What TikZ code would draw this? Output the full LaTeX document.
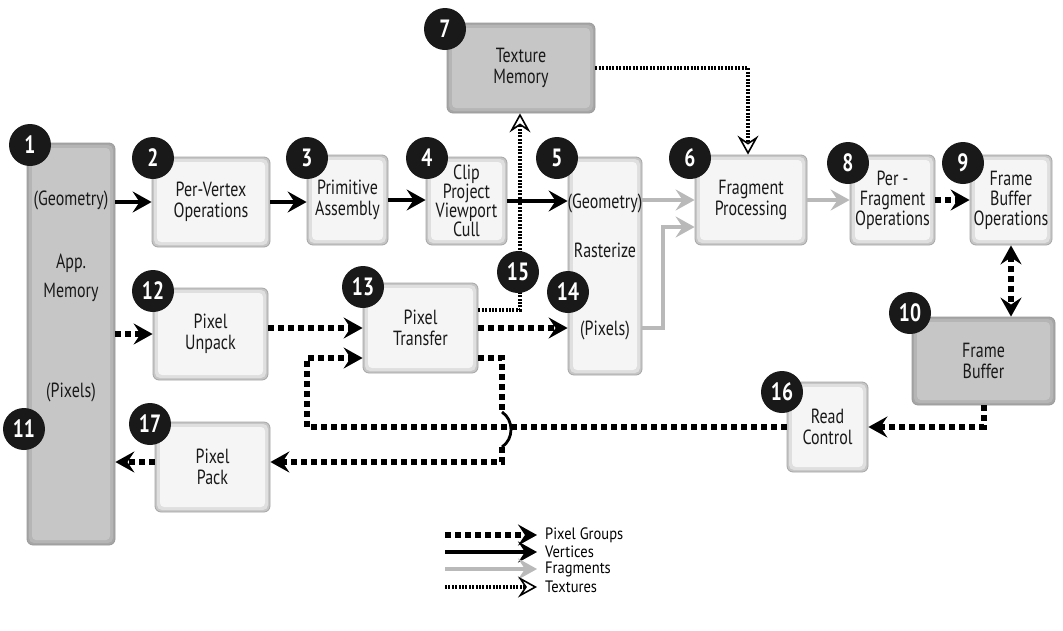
\documentclass[tikz,border=0pt]{standalone}
\usepackage{fontspec}
\setmainfont{PT Sans}[FakeStretch=0.78]
\newfontfamily\lgfam{PT Sans}[FakeStretch=0.88]
\usetikzlibrary{arrows.meta}
\newcommand\bxfont{\fontsize{20.5}{21.5}\selectfont}
\newcommand\bdfont{\fontsize{25}{25}\selectfont\bfseries}
\newcommand\lgfont{\lgfam\fontsize{16.5}{16.5}\selectfont}
\begin{document}
\begin{tikzpicture}[x=1pt,y=-1pt,
  lbox/.style={rounded corners=6pt, draw=gray!70, line width=0.8pt, fill=gray!45,
    inner sep=0pt, align=center, font=\bxfont, text=black!90,
    path picture={
      \fill[gray!25, rounded corners=5pt] ([xshift=2pt,yshift=-2pt]path picture bounding box.north west) rectangle ([xshift=-2pt,yshift=2pt]path picture bounding box.south east);
      \fill[gray!8, rounded corners=4pt] ([xshift=5pt,yshift=-5pt]path picture bounding box.north west) rectangle ([xshift=-5pt,yshift=5pt]path picture bounding box.south east);
    }},
  dbox/.style={rounded corners=6pt, draw=gray!80, line width=0.8pt, fill=gray!70,
    inner sep=0pt, align=center, font=\bxfont, text=black!90,
    path picture={
      \fill[gray!58, rounded corners=5pt] ([xshift=2pt,yshift=-2pt]path picture bounding box.north west) rectangle ([xshift=-2pt,yshift=2pt]path picture bounding box.south east);
      \fill[gray!45, rounded corners=4pt] ([xshift=5pt,yshift=-5pt]path picture bounding box.north west) rectangle ([xshift=-5pt,yshift=5pt]path picture bounding box.south east);
    }},
  badge/.style={circle, fill=black!90, text=white, font=\bdfont, inner sep=0pt, minimum size=42pt},
  lbl/.style={font=\bxfont, text=black!90, inner sep=0pt},
  hd/.style={-{Stealth[length=19pt,width=21pt,inset=7pt]}},
  vert/.style={line width=3.6pt, black, hd},
  pix/.style={line width=6pt, black, dash pattern=on 6pt off 4pt, hd},
  pixnt/.style={line width=6pt, black, dash pattern=on 6pt off 4pt},
  frg/.style={line width=3.6pt, gray!55, hd},
  tex/.style={line width=3.4pt, black, dash pattern=on 2pt off 1.4pt, -{Stealth[open,length=19pt,width=21pt,inset=7pt,line width=1.6pt,fill=white]}},
]
\useasboundingbox (0,0) rectangle (1063,630);
\fill[white] (0,0) rectangle (1063,630);

% boxes
\node[dbox, minimum width=88pt, minimum height=402pt] (app) at (71,344) {};
\node[lbl] (appg) at (71,200) {(Geometry)};
\node[lbl] (appa) at (71,263) {App.};
\node[lbl] (appm) at (71,292) {Memory};
\node[lbl] (appp) at (71,392) {(Pixels)};

\node[lbox, minimum width=118pt, minimum height=90pt] (pv) at (211,202) {Per-Vertex\\Operations};
\node[lbox, minimum width=81pt, minimum height=90pt] (prim) at (347.5,200) {Primitive\\Assembly};
\node[lbox, minimum width=81pt, minimum height=88pt, font=\fontsize{20.5}{19}\selectfont] (clip) at (466.5,201) {Clip\\Project\\Viewport\\Cull};
\node[lbox, minimum width=74pt, minimum height=218pt] (rast) at (605,266) {};
\node[lbl] (rastg) at (605,203) {(Geometry)};
\node[lbl] (rastr) at (605,250) {Rasterize};
\node[lbl] (rastp) at (605,330) {(Pixels)};
\node[lbox, minimum width=112pt, minimum height=90pt] (frag) at (751,200) {Fragment\\Processing};
\node[dbox, minimum width=148pt, minimum height=90pt] (tex) at (521,68) {Texture\\Memory};
\node[lbox, minimum width=85pt, minimum height=90pt, font=\fontsize{20.5}{20}\selectfont] (pf) at (892.5,200) {Per -\\Fragment\\Operations};
\node[lbox, minimum width=82pt, minimum height=90pt, font=\fontsize{20.5}{20}\selectfont] (fbo) at (1011,200) {Frame\\Buffer\\Operations};
\node[dbox, minimum width=143pt, minimum height=88pt] (fb) at (983.5,361) {Frame\\Buffer};
\node[lbox, minimum width=115pt, minimum height=92pt] (unp) at (210.5,334) {Pixel\\Unpack};
\node[lbox, minimum width=115pt, minimum height=90pt] (xfer) at (420.5,328) {Pixel\\Transfer};
\node[lbox, minimum width=81pt, minimum height=90pt] (read) at (827.5,427) {Read\\Control};
\node[lbox, minimum width=115pt, minimum height=90pt] (pack) at (212.5,467) {Pixel\\Pack};

% coordinates
\coordinate (fp) at (663,227);
\coordinate (t15) at (520,310);
\coordinate (t6) at (748,68);
\coordinate (loopL) at (307,358);
\coordinate (loopR) at (502,462);
\coordinate (hopA) at (502,412);
\coordinate (hopB) at (502,447);

% vertices
\draw[vert] (app.east |- pv.west) -- (pv.west);
\draw[vert] (pv.east) -- (pv.east -| prim.west);
\draw[vert] (prim.east) -- (prim.east -| clip.west);
\draw[vert] (clip.east) -- (clip.east -| rast.west);

% fragments
\draw[frg] (frag.west -| rast.east) -- (frag.west);
\draw[frg] (rast.east |- xfer.east) -| (fp) -- (fp -| frag.west);
\draw[frg] (frag.east) -- (frag.east -| pf.west);

% textures
\draw[tex] (xfer.east |- t15) -- (t15) -- (t15 |- tex.south);
\draw[tex] (tex.east) -- (t6) -- (t6 |- frag.north);

% pixel groups
\draw[pix] (pf.east) -- (pf.east -| fbo.west);
\draw[pixnt, {Stealth[length=19pt,width=21pt,inset=7pt]}-{Stealth[length=19pt,width=21pt,inset=7pt]}] (fbo.south) -- (fbo.south |- fb.north);
\draw[pix] (fb.south) -- (fb.south |- read.east) -- (read.east);
\draw[pix] (read.west) -| (loopL) -- (loopL -| xfer.west);
\draw[pixnt] (xfer.east |- loopL) -| (hopA);
\draw[line width=2.8pt, black] (hopA) .. controls (514,420) and (514,439) .. (hopB);
\draw[pix] (hopB) -- (loopR) -- (loopR -| pack.east);
\draw[pix] (pack.west |- loopR) -- (app.east |- loopR);
\draw[pix] (unp.west -| app.east) -- (unp.west);
\draw[pix] (unp.east |- xfer.west) -- (xfer.west);
\draw[pix] (xfer.east) -- (xfer.east -| rast.west);

% badges
\node[badge] (n1) at (30,145) {1};
\node[badge] (n2) at (153,158) {2};
\node[badge] (n3) at (307,158) {3};
\node[badge] (n4) at (427,158) {4};
\node[badge] (n5) at (557,158) {5};
\node[badge] (n6) at (690,158) {6};
\node[badge] (n7) at (445,29) {7};
\node[badge] (n8) at (848,163) {8};
\node[badge] (n9) at (963,163) {9};
\node[badge] (n10) at (910,313) {10};
\node[badge] (n11) at (24,429) {11};
\node[badge] (n12) at (153,291) {12};
\node[badge] (n13) at (363,287) {13};
\node[badge] (n14) at (568,292) {14};
\node[badge] (n15) at (518,272) {15};
\node[badge] (n16) at (782,392) {16};
\node[badge] (n17) at (150,424) {17};

% legend
\coordinate (lg1) at (445,535);
\coordinate (lg2) at (445,552);
\coordinate (lg3) at (445,569);
\coordinate (lg4) at (445,587);
\draw[pix] (lg1) -- ++(92,0);
\draw[vert] (lg2) -- ++(92,0);
\draw[frg] (lg3) -- ++(92,0);
\draw[tex] (lg4) -- ++(92,0);
\node[anchor=west, font=\lgfont, inner sep=0pt] (lt1) at (545,535) {Pixel Groups};
\node[anchor=west, font=\lgfont, inner sep=0pt] (lt2) at (545,552) {Vertices};
\node[anchor=west, font=\lgfont, inner sep=0pt] (lt3) at (545,569) {Fragments};
\node[anchor=west, font=\lgfont, inner sep=0pt] (lt4) at (545,587) {Textures};
\end{tikzpicture}
\end{document}
